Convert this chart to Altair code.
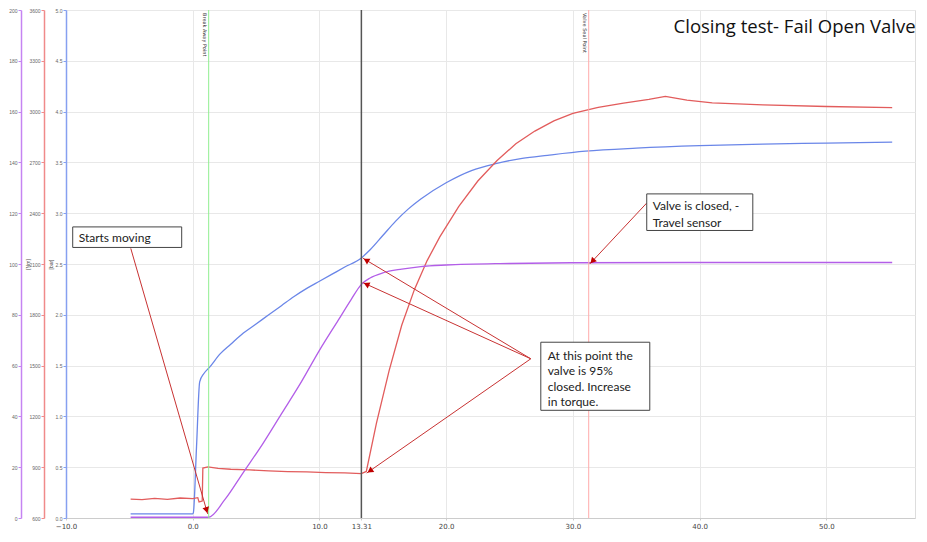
import math
import altair as alt
import pandas as pd

# ---------------- data ----------------
blue_t = [-4.9, -2.0, 0.0, 0.05, 0.3, 0.55, 0.87, 1.3, 2.2, 3.0,
          4.0, 5.0, 6.0, 7.0, 8.0, 9.0, 10.0, 11.0, 12.0, 13.31,
          14.0, 15.0, 16.0, 17.0, 18.0, 20.0, 22.0, 24.0, 26.0, 28.0,
          31.0, 35.0, 40.0, 45.0, 50.0, 55.2]
blue_v = [0.04, 0.04, 0.04, 0.05, 0.7, 1.34, 1.42, 1.48, 1.62, 1.71,
          1.82, 1.91, 2.0, 2.09, 2.18, 2.26, 2.33, 2.40, 2.47, 2.56,
          2.64, 2.78, 2.92, 3.04, 3.14, 3.30, 3.42, 3.49, 3.54, 3.57,
          3.61, 3.64, 3.665, 3.68, 3.69, 3.70]

purple_t = [-4.9, 0.0, 1.26, 2.5, 4.0, 5.5, 7.0, 8.5, 10.0, 11.5, 12.5, 13.31,
            14.0, 15.0, 16.5, 18.0, 20.0, 25.0, 30.0, 40.0, 55.2]
purple_v = [0.3, 0.3, 0.3, 7, 18, 29, 41, 53, 66, 78, 86, 92,
            94.5, 96.5, 98, 99, 99.6, 100.2, 100.5, 100.6, 100.6]

red_t = [-4.9, -4.0, -3.0, -2.0, -1.0, 0.0, 0.4, 0.5, 0.75, 0.8,
         1.2, 2.0, 3.0, 4.5, 6.0, 7.5, 9.0, 10.5, 12.0, 13.31,
         13.7, 14.5, 15.5, 16.5, 17.5, 18.5, 19.5, 21.0, 22.5, 24.0,
         25.5, 27.0, 28.5, 30.0, 32.0, 34.0, 36.0, 37.3, 39.0, 41.0,
         45.0, 50.0, 55.2]
red_v = [712, 708, 716, 710, 718, 714, 720, 695, 700, 895,
         902, 893, 888, 884, 878, 874, 872, 868, 866, 862,
         875, 1160, 1470, 1740, 1950, 2120, 2260, 2440, 2590, 2710,
         2810, 2885, 2945, 2990, 3025, 3050, 3072, 3090, 3068, 3052,
         3040, 3030, 3024]

x_ticks = [-10, 0, 10, 13.31, 20, 30, 40, 50]
blue_ticks = [0, 0.5, 1.0, 1.5, 2.0, 2.5, 3.0, 3.5, 4.0, 4.5, 5.0]
red_ticks = [600, 900, 1200, 1500, 1800, 2100, 2400, 2700, 3000, 3300, 3600]
purple_ticks = [0, 20, 40, 60, 80, 100, 120, 140, 160, 180, 200]

marker_t = [1.26, 13.31, 31.25]
marker_color = ["#90ee90", "#555555", "#ffaaaa"]
marker_label = ["Break Away Point", "", "Valve Seal Point"]

# annotation boxes (time, travel-axis units)
box_x1 = [-9.47, 35.83, 27.47]
box_x2 = [-0.87, 44.2, 36.07]
box_y1 = [2.663, 2.83, 1.06]
box_y2 = [2.865, 3.19, 1.73]

note_t = [-9.0, 36.3, 36.3, 28.02, 28.02, 28.02, 28.02]
note_v = [2.76, 3.067, 2.904, 1.596, 1.442, 1.288, 1.144]
note_text = ["Starts moving", "Valve is closed, -", "Travel sensor",
             "At this point the", "valve is 95%", "closed. Increase", "in torque."]

arrow_t0 = [-4.89, 35.83, 26.68, 26.68, 26.68]
arrow_v0 = [2.654, 3.10, 1.567, 1.567, 1.567]
arrow_t1 = [1.18, 31.33, 13.42, 13.42, 13.73]
arrow_v1 = [0.04, 2.50, 2.558, 2.317, 0.442]

title_text = "Closing test- Fail Open Valve"
title_t = [47.5]
title_v = [4.83]

# ---------------- layout ----------------
W, H = 849, 508
XDOM = [-10, 57]
sx = W / (XDOM[1] - XDOM[0])
sy = H / 5.0

x_scale = alt.Scale(domain=XDOM, nice=False, zero=False)
x_axis = alt.Axis(values=x_ticks, title="", grid=True, gridColor="#e8e8e8",
                  domainColor="#cccccc", tickColor="#cccccc", tickSize=2,
                  labelFontSize=7, labelColor="#444444", labelFont="DejaVu Sans",
                  labelFlush=False, labelOverlap=False, labelPadding=2,
                  labelExpr="datum.value == 13.31 ? '13.31' : format(datum.value, '.1f')")

ann_y = alt.Scale(domain=[0, 5], nice=False, zero=False)


def X(field):
    return alt.X(field, type="quantitative", scale=x_scale, axis=x_axis)


def Yann(field):
    return alt.Y(field, type="quantitative", scale=ann_y, axis=None)


blue_df = pd.DataFrame({"t": blue_t, "v": blue_v})
red_df = pd.DataFrame({"t": red_t, "v": red_v})
purple_df = pd.DataFrame({"t": purple_t, "v": purple_v})

blue = alt.Chart(blue_df).mark_line(color="#6a86e8", strokeWidth=1.3, interpolate="monotone").encode(
    x=X("t"),
    y=alt.Y("v:Q", scale=alt.Scale(domain=[0, 5], nice=False, zero=False),
            axis=alt.Axis(orient="left", offset=0, values=blue_ticks, format=".1f",
                          title="", grid=True, gridColor="#e8e8e8",
                          domainColor="#86a0f0", domainWidth=1.5, tickColor="#86a0f0",
                          tickSize=3, labelFontSize=5, labelColor="#666666",
                          labelPadding=1)),
)

red = alt.Chart(red_df).mark_line(color="#e25c5c", strokeWidth=1.3).encode(
    x=X("t"),
    y=alt.Y("v:Q", scale=alt.Scale(domain=[600, 3600], nice=False, zero=False),
            axis=alt.Axis(orient="left", offset=22, values=red_ticks, format="d",
                          title="[bar]", titleFontSize=5, titleColor="#555555",
                          titleFontWeight="normal", titleX=6, titleY=254,
                          titleAngle=270, titleAlign="center", titleBaseline="middle",
                          grid=False, domainColor="#f08a8a", domainWidth=1.5,
                          tickColor="#f08a8a", tickSize=3, labelFontSize=5,
                          labelColor="#666666", labelPadding=1)),
)

purple = alt.Chart(purple_df).mark_line(color="#b35ee8", strokeWidth=1.3, interpolate="monotone").encode(
    x=X("t"),
    y=alt.Y("v:Q", scale=alt.Scale(domain=[0, 200], nice=False, zero=False),
            axis=alt.Axis(orient="left", offset=45, values=purple_ticks, format="d",
                          title="[Nm]", titleFontSize=5, titleColor="#555555",
                          titleFontWeight="normal", titleX=6, titleY=254,
                          titleAngle=270, titleAlign="center", titleBaseline="middle",
                          grid=False, domainColor="#c584f2", domainWidth=1.5,
                          tickColor="#c584f2", tickSize=3, labelFontSize=5,
                          labelColor="#666666", labelPadding=1)),
)

marker_df = pd.DataFrame({"t": marker_t, "c": marker_color, "lab": marker_label,
                          "y0": [0.0] * 3, "y1": [5.0] * 3,
                          "w": [1.0, 1.5, 1.0],
                          "lt": [m - 0.3 for m in marker_t], "ly": [4.97] * 3})
markers = alt.Chart(marker_df).mark_rule().encode(
    x=X("t"), y=Yann("y0"), y2="y1",
    color=alt.Color("c:N", scale=None),
    strokeWidth=alt.StrokeWidth("w:Q", scale=None),
)
marker_text = alt.Chart(marker_df).mark_text(
    angle=90, align="left", baseline="middle", fontSize=5, color="#333333",
    font="DejaVu Sans").encode(x=X("lt"), y=Yann("ly"), text="lab:N")

arrow_df = pd.DataFrame({"t0": arrow_t0, "v0": arrow_v0, "t1": arrow_t1, "v1": arrow_v1})
arrows = alt.Chart(arrow_df).mark_rule(color="#c83232", strokeWidth=1).encode(
    x=X("t0"), x2="t1", y=Yann("v0"), y2="v1")

head_t, head_v, head_a = [], [], []
for t0, v0, t1, v1 in zip(arrow_t0, arrow_v0, arrow_t1, arrow_v1):
    dx = (t1 - t0) * sx
    dy = -(v1 - v0) * sy
    L = math.hypot(dx, dy)
    ang = math.degrees(math.atan2(dx, -dy)) % 360
    head_t.append(t1 - dx / L * 4 / sx)
    head_v.append(v1 + dy / L * 4 / sy)
    head_a.append(ang)
head_df = pd.DataFrame({"t": head_t, "v": head_v, "a": head_a})
heads = alt.Chart(head_df).mark_point(shape="triangle-up", filled=True, size=45,
                                      color="#c00000", opacity=1).encode(
    x=X("t"), y=Yann("v"), angle=alt.Angle("a:Q", scale=None))

box_df = pd.DataFrame({"x1": box_x1, "x2": box_x2, "y1": box_y1, "y2": box_y2})
boxes = alt.Chart(box_df).mark_rect(fill="white", stroke="#444444", strokeWidth=1).encode(
    x=X("x1"), x2="x2", y=Yann("y1"), y2="y2")

note_df = pd.DataFrame({"t": note_t, "v": note_v, "txt": note_text})
notes = alt.Chart(note_df).mark_text(align="left", baseline="middle", fontSize=12,
                                     font="Lato", color="#222222").encode(
    x=X("t"), y=Yann("v"), text="txt:N")

title_df = pd.DataFrame({"t": title_t, "v": title_v, "txt": [title_text]})
title = alt.Chart(title_df).mark_text(align="center", baseline="middle", fontSize=18.5,
                                      font="Open Sans", color="#111111").encode(
    x=X("t"), y=Yann("v"), text="txt:N")

chart = alt.layer(
    blue, red, purple, markers, marker_text, arrows, heads, boxes, notes, title
).resolve_scale(y="independent").properties(
    width=W, height=H,
    autosize=alt.AutoSizeParams(type="none"),
    padding={"left": 58, "top": 2, "right": 4, "bottom": 16},
).configure_view(strokeWidth=0).configure(background="white")

chart.save("out.html", embed_options={"renderer": "svg", "actions": False})
